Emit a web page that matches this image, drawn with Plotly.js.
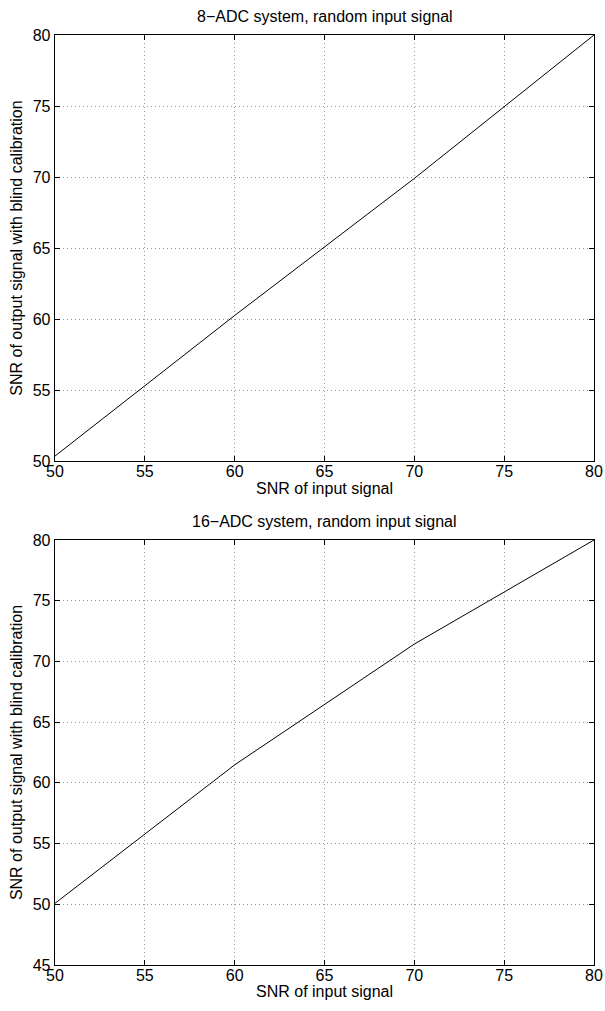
<!DOCTYPE html>
<html>
<head>
<meta charset="utf-8">
<script src="https://cdn.plot.ly/plotly-3.0.1.min.js"></script>
<style>html,body{margin:0;padding:0;background:#fff;}#chart{width:605px;height:1011px;}</style>
</head>
<body>
<div id="chart"></div>
<script>
const snrInput = [50, 60, 70, 80];
const snrOut8 = [50.35, 60.25, 69.9, 80];
const snrOut16 = [50.08, 61.48, 71.43, 80];
const xTicks = [50, 55, 60, 65, 70, 75, 80];
const yTicksTop = [50, 55, 60, 65, 70, 75, 80];
const yTicksBottom = [45, 50, 55, 60, 65, 70, 75, 80];
const titleTop = '8\u2212ADC system, random input signal';
const titleBottom = '16\u2212ADC system, random input signal';
const xLabel = 'SNR of input signal';
const yLabel = 'SNR of output signal with blind calibration';

const font = {family: 'Liberation Sans, Arial, sans-serif', size: 16, color: '#000'};

const traces = [
  {x: snrInput, y: snrOut8, type: 'scatter', mode: 'lines', line: {color: '#000', width: 1}, xaxis: 'x', yaxis: 'y', hoverinfo: 'skip'},
  {x: snrInput, y: snrOut16, type: 'scatter', mode: 'lines', line: {color: '#000', width: 1}, xaxis: 'x2', yaxis: 'y2', hoverinfo: 'skip'}
];

function axis(extra) {
  return Object.assign({
    showline: true, mirror: 'ticks', linecolor: '#000', linewidth: 1.3,
    ticks: 'inside', ticklen: 5, tickcolor: '#000', tickwidth: 1,
    showgrid: true, gridcolor: '#999', griddash: '1px,3px', gridwidth: 1,
    zeroline: false, tickfont: font, automargin: false
  }, extra);
}

const layout = {
  width: 605, height: 1011,
  margin: {l: 55, r: 11, t: 35, b: 46},
  paper_bgcolor: '#fff', plot_bgcolor: '#fff',
  showlegend: false,
  font: font,
  xaxis: axis({domain: [0, 1], range: [50, 80], tickvals: xTicks, anchor: 'y', ticklabelstandoff: -5,
    title: {text: xLabel, font: font, standoff: 0}}),
  yaxis: axis({domain: [0.5419, 1], range: [50, 80], tickvals: yTicksTop, anchor: 'x',
    title: {text: yLabel, font: font, standoff: 6}}),
  xaxis2: axis({domain: [0, 1], range: [50, 80], tickvals: xTicks, anchor: 'y2', ticklabelstandoff: -5,
    title: {text: xLabel, font: font, standoff: 0}}),
  yaxis2: axis({domain: [0, 0.457], range: [45, 80], tickvals: yTicksBottom, anchor: 'x2',
    title: {text: yLabel, font: font, standoff: 6}}),
  annotations: [
    {text: titleTop, xref: 'paper', yref: 'paper', x: 0.5, y: 1, yshift: 8, xanchor: 'center', yanchor: 'bottom', showarrow: false, font: font},
    {text: titleBottom, xref: 'paper', yref: 'paper', x: 0.5, y: 0.457, yshift: 8, xanchor: 'center', yanchor: 'bottom', showarrow: false, font: font}
  ]
};

Plotly.newPlot('chart', traces, layout, {staticPlot: true, displayModeBar: false});
</script>
</body>
</html>
